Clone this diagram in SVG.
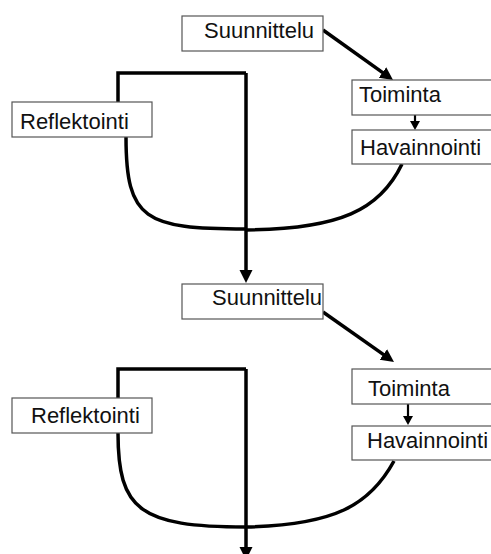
<svg xmlns="http://www.w3.org/2000/svg" width="491" height="554" viewBox="0 0 491 554">
<style>
.box{fill:#fff;stroke:#555;stroke-width:1.2}
.lbl{font-family:"Liberation Sans",Arial,sans-serif;font-size:22px;fill:#111}
.thick{fill:none;stroke:#000;stroke-width:3.5}
.thin{fill:none;stroke:#000;stroke-width:2.2}
</style>
<defs>
<marker id="ah" markerUnits="userSpaceOnUse" markerWidth="15" markerHeight="14" refX="2" refY="6.5" orient="auto">
<path d="M0,0 L13,6.5 L0,13 z" fill="#000"/>
</marker>
<marker id="ahs" markerUnits="userSpaceOnUse" markerWidth="11" markerHeight="11" refX="1" refY="5" orient="auto">
<path d="M0,0 L9,5 L0,10 z" fill="#000"/>
</marker>
</defs>
<g id="connectors">
<path class="thick" d="M246,73 H118 V110"/>
<path class="thick" d="M246,73 V272" marker-end="url(#ah)"/>
<path class="thick" d="M126,130 V137 C126,220 145,229 246,229"/>
<path class="thick" d="M402,164 C380,210 340,229 246,230"/>
<path class="thick" d="M323,30 L384.1,73.6" marker-end="url(#ah)"/>
<path class="thin" d="M415,115 V122" marker-end="url(#ahs)"/>
<path class="thick" d="M246,369 H118 V405"/>
<path class="thick" d="M246,369 V549" marker-end="url(#ah)"/>
<path class="thick" d="M118,425 V433 C118,510 140,527 246,527"/>
<path class="thick" d="M394,461 C370,505 335,525 246,527"/>
<path class="thick" d="M323,312 L385,355.6" marker-end="url(#ah)"/>
<path class="thin" d="M408,404 V417" marker-end="url(#ahs)"/>
</g>
<g id="suunnittelu1"><rect class="box" x="182" y="16" width="141" height="35"/><text class="lbl" x="204" y="38">Suunnittelu</text></g>
<g id="reflektointi1"><rect class="box" x="12" y="102" width="140" height="35"/><text class="lbl" x="20" y="129">Reflektointi</text></g>
<g id="toiminta1"><rect class="box" x="352" y="80" width="145" height="35"/><text class="lbl" x="359" y="102">Toiminta</text></g>
<g id="havainnointi1"><rect class="box" x="352" y="130" width="145" height="34"/><text class="lbl" x="360" y="155">Havainnointi</text></g>
<g id="suunnittelu2"><rect class="box" x="182" y="284" width="141" height="35"/><text class="lbl" x="212" y="305">Suunnittelu</text></g>
<g id="reflektointi2"><rect class="box" x="12" y="398" width="140" height="35"/><text class="lbl" x="31" y="423">Reflektointi</text></g>
<g id="toiminta2"><rect class="box" x="352" y="369" width="145" height="35"/><text class="lbl" x="368" y="396">Toiminta</text></g>
<g id="havainnointi2"><rect class="box" x="352" y="426" width="145" height="34"/><text class="lbl" x="367" y="448">Havainnointi</text></g>
</svg>
